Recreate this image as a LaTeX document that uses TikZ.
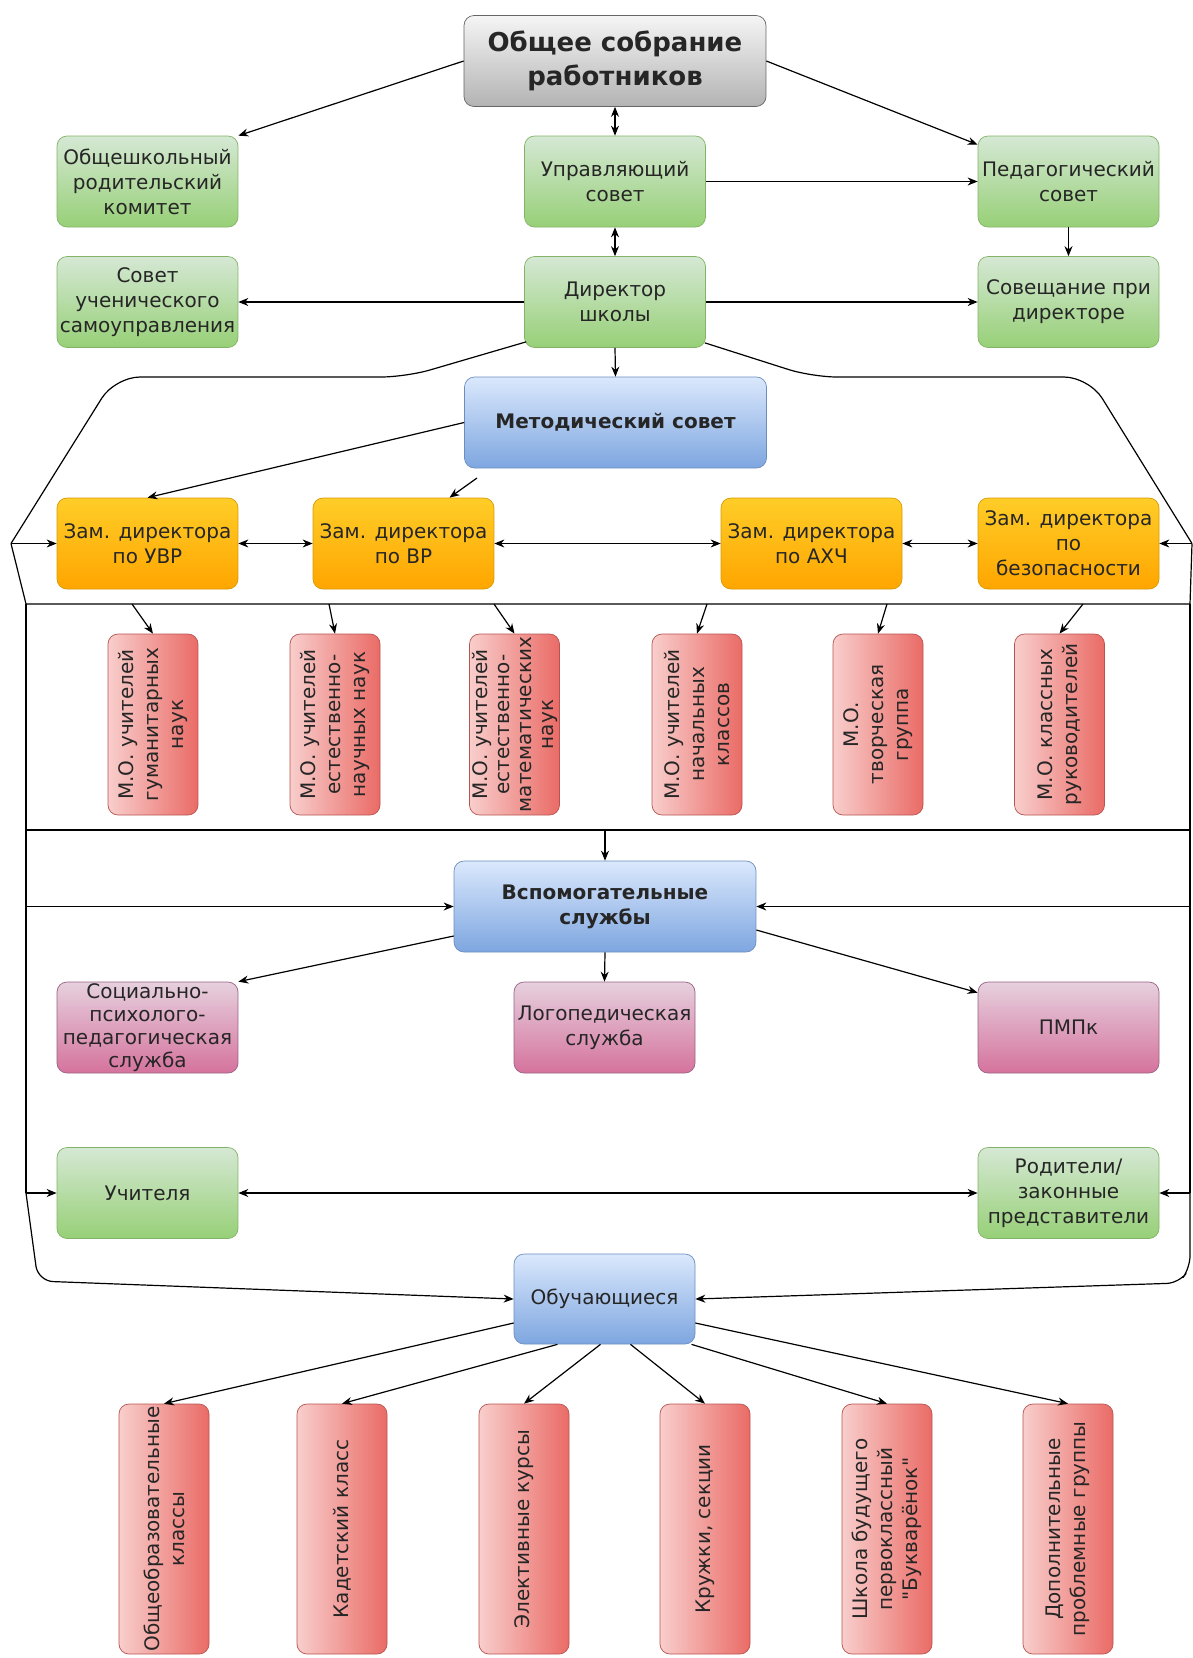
\documentclass[tikz,border=0pt]{standalone}
\usepackage{fontspec}
\setmainfont{DejaVu Sans}[Ligatures=TeXOff]
\usetikzlibrary{arrows.meta}
\definecolor{grntop}{HTML}{D5E8D4}
\definecolor{grnbot}{HTML}{97D077}
\definecolor{grnline}{HTML}{82B366}
\definecolor{bluetop}{HTML}{DAE8FC}
\definecolor{bluebot}{HTML}{7EA6E0}
\definecolor{blueline}{HTML}{6C8EBF}
\definecolor{graytop}{HTML}{F5F5F5}
\definecolor{graybot}{HTML}{B3B3B3}
\definecolor{grayline}{HTML}{666666}
\definecolor{orgtop}{HTML}{FFCD28}
\definecolor{orgbot}{HTML}{FFA500}
\definecolor{orgline}{HTML}{D79B00}
\definecolor{redtop}{HTML}{F8CECC}
\definecolor{redbot}{HTML}{EA6B66}
\definecolor{redline}{HTML}{B85450}
\definecolor{pinktop}{HTML}{E6D0DE}
\definecolor{pinkbot}{HTML}{D5739D}
\definecolor{pinkline}{HTML}{996185}

\begin{document}
\begin{tikzpicture}[x=1pt, y=-1pt, line width=1.2pt, >={Stealth[length=10pt,width=8pt]},
  box/.style={rounded corners=10pt, line width=0.7pt, inner sep=0pt, align=center, text=black!85,
    minimum width=181pt, minimum height=91pt, font=\fontsize{20}{25}\selectfont},
  greenbox/.style={box, draw=grnline, top color=grntop, bottom color=grnbot},
  bluebox/.style={box, draw=blueline, top color=bluetop, bottom color=bluebot},
  graybox/.style={box, draw=grayline, top color=graytop, bottom color=graybot},
  orangebox/.style={box, draw=orgline, top color=orgtop, bottom color=orgbot},
  pinkbox/.style={box, draw=pinkline, top color=pinktop, bottom color=pinkbot},
  redbox/.style={box, draw=redline, left color=redtop, right color=redbot, rotate=90, minimum height=90pt},
  boldtext/.style={font=\fontsize{20}{25}\selectfont\bfseries}]
\useasboundingbox (0,0) rectangle (1192,1658);
\node[graybox, minimum width=302pt, font=\fontsize{26}{34}\selectfont\bfseries] (top) at (615,61) {Общее собрание\\работников};
\node[greenbox] (kom) at (147.5,181.5) {Общешкольный\\родительский\\комитет};
\node[greenbox] (upr) at (615,181.5) {Управляющий\\совет};
\node[greenbox] (ped) at (1068.5,181.5) {Педагогический\\совет};
\node[greenbox] (suu) at (147.5,302) {Совет\\ученического\\самоуправления};
\node[greenbox] (dir) at (615,302) {Директор\\школы};
\node[greenbox] (sovd) at (1068.5,302) {Совещание при\\директоре};
\node[bluebox, boldtext, minimum width=302pt] (met) at (615.5,422.5) {Методический совет};
\node[orangebox] (uvr) at (147.5,543.5) {Зам. директора\\по УВР};
\node[orangebox] (vr) at (403.5,543.5) {Зам. директора\\по ВР};
\node[orangebox] (ahch) at (811.5,543.5) {Зам. директора\\по АХЧ};
\node[orangebox] (bez) at (1068.5,543.5) {Зам. директора\\по\\безопасности};
\node[redbox] (mo1) at (153,724.5) {М.О. учителей\\гуманитарных\\наук};
\node[redbox] (mo2) at (335,724.5) {М.О. учителей\\естественно-\\научных наук};
\node[redbox, font=\fontsize{20}{22}\selectfont] (mo3) at (514.5,724.5) {М.О. учителей\\естественно-\\математических\\наук};
\node[redbox] (mo4) at (697,724.5) {М.О. учителей\\начальных\\классов};
\node[redbox] (mo5) at (878,724.5) {М.О.\\творческая\\группа};
\node[redbox] (mo6) at (1059.5,724.5) {М.О. классных\\руководителей};
\node[bluebox, boldtext, minimum width=302pt] (vsp) at (605,906.5) {Вспомогательные\\службы};
\node[pinkbox, font=\fontsize{20}{23}\selectfont] (soc) at (147.5,1027.5) {Социально-\\психолого-\\педагогическая\\служба};
\node[pinkbox] (logo) at (604.5,1027.5) {Логопедическая\\служба};
\node[pinkbox] (pmpk) at (1068.5,1027.5) {ПМПк};
\node[greenbox] (uch) at (147.5,1193) {Учителя};
\node[greenbox] (rod) at (1068.5,1193) {Родители/\\законные\\представители};
\node[bluebox, minimum height=90pt] (obu) at (604.5,1299) {Обучающиеся};
\node[redbox, minimum width=250pt] (gr1) at (164,1529) {Общеобразовательные\\классы};
\node[redbox, minimum width=250pt] (gr2) at (342,1529) {Кадетский класс};
\node[redbox, minimum width=250pt] (gr3) at (524,1529) {Элективные курсы};
\node[redbox, minimum width=250pt] (gr4) at (705,1529) {Кружки, секции};
\node[redbox, minimum width=250pt] (gr5) at (887,1529) {Школа будущего\\первоклассный\\"Букварёнок"};
\node[redbox, minimum width=250pt] (gr6) at (1068,1529) {Дополнительные\\проблемные группы};
\coordinate (lk) at (11,543.5);
\coordinate (rk) at (1192,543.5);
\coordinate (ftl) at (26,604);
\coordinate (ftr) at (1190,604);
\coordinate (fbl) at (26,830);
\coordinate (fbr) at (1190,830);
\coordinate (fbm) at (605,830);
\coordinate (lv) at (26,906.5);
\coordinate (rv) at (1190,906.5);
\coordinate (lu) at (26,1193);
\coordinate (ru) at (1190,1193);
\coordinate (vrin) at (477,478);
\coordinate (m1) at (132,604);
\coordinate (m2) at (329,604);
\coordinate (m3) at (494,604);
\coordinate (m4) at (707,604);
\coordinate (m5) at (887,604);
\coordinate (m6) at (1083,604);
\draw[->] (top.west) -- (kom.north east);
\draw[->] (top.east) -- ([yshift=-9pt]ped.north west);
\draw[<->] (top.south) -- (upr.north);
\draw[<->] (upr.south) -- (dir.north);
\draw[->] (upr.east) -- (ped.west);
\draw[->] (ped.south) -- (sovd.north);
\draw[->] (dir.west) -- (suu.east);
\draw[->] (dir.east) -- (sovd.west);
\draw[->] (dir.south) -- (met.north);
\draw[->] (met.west) -- (uvr.north);
\draw[->] (vrin) -- ([xshift=46pt]vr.north);
\draw[<->] (uvr.east) -- (vr.west);
\draw[<->] (vr.east) -- (ahch.west);
\draw[<->] (ahch.east) -- (bez.west);
\draw[rounded corners=25pt] ([xshift=2pt,yshift=6pt]dir.south west) -- (406,377) -- (115,377) -- (lk);
\draw[rounded corners=25pt] ([xshift=-1pt,yshift=5pt]dir.south east) -- (812,377) -- (1089,377) -- (rk);
\draw[->] (lk) -- (uvr.west);
\draw[->] (rk) -- (bez.east);
\draw (lk) -- (ftl) -- (ftr) -- (rk);
\draw (fbl) -- (fbr);
\draw (ftl) -- (lu);
\draw (ftr) -- (ru);
\draw[->] (m1) -- (mo1.east);
\draw[->] (m2) -- (mo2.east);
\draw[->] (m3) -- (mo3.east);
\draw[->] (m4) -- (mo4.east);
\draw[->] (m5) -- (mo5.east);
\draw[->] (m6) -- (mo6.east);
\draw[->] (fbm) -- (vsp.north);
\draw[->] (lv) -- (vsp.west);
\draw[->] (rv) -- (vsp.east);
\draw[->] ([yshift=-29.5pt]vsp.west) -- (soc.north east);
\draw[->] (vsp.south) -- (logo.north);
\draw[->] ([yshift=-23.5pt]vsp.east) -- ([yshift=-11pt]pmpk.north west);
\draw[<->] (uch.east) -- (rod.west);
\draw[->] (lu) -- (uch.west);
\draw[->] (ru) -- (rod.east);
\draw[->, rounded corners=15pt] (lu) -- (38,1281) -- (obu.west);
\draw[->, rounded corners=12pt] (ru) -- (1190,1268) -- (1179,1283) -- (obu.east);
\draw[->] ([yshift=-24pt]obu.west) -- (gr1.east);
\draw[->] ([xshift=-47pt]obu.south) -- (gr2.east);
\draw[->] ([xshift=-4pt]obu.south) -- (gr3.east);
\draw[->] ([xshift=26pt]obu.south) -- (gr4.east);
\draw[->] ([xshift=87pt]obu.south) -- (gr5.east);
\draw[->] ([yshift=-24pt]obu.east) -- (gr6.east);
\end{tikzpicture}
\end{document}
